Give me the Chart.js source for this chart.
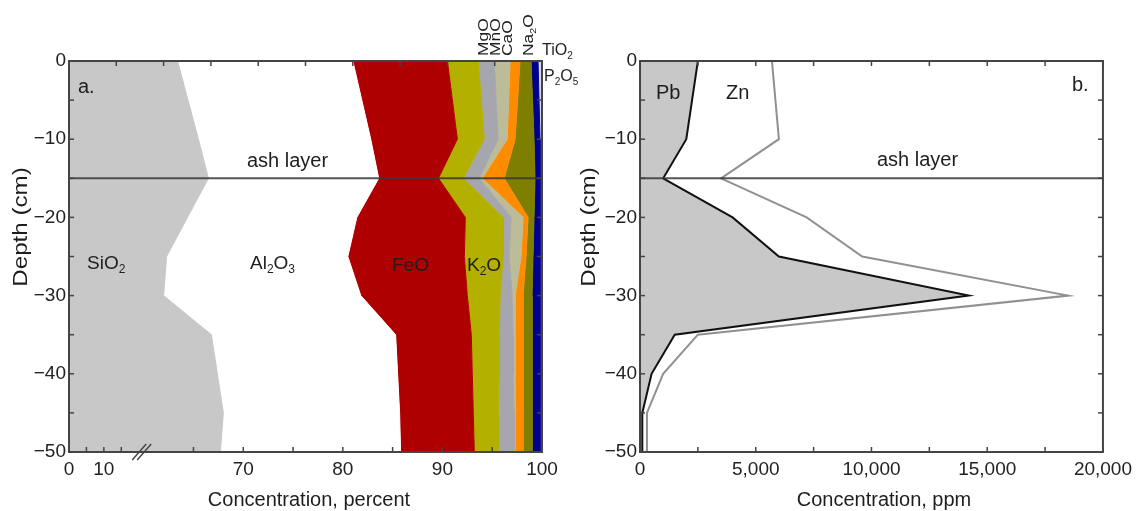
<!DOCTYPE html>
<html>
<head>
<meta charset="utf-8">
<script src="https://cdn.jsdelivr.net/npm/chart.js@4.4.1/dist/chart.umd.min.js"></script>
<style>
  html, body { margin: 0; padding: 0; background: #fff; }
  #wrap { position: relative; width: 1138px; height: 511px; overflow: hidden; background: #fff; }
  canvas { position: absolute; top: 0; }
  #chartA { left: 0; }
  #chartB { left: 560px; }
</style>
</head>
<body>
<div id="wrap">
  <canvas id="chartA" width="585" height="511"></canvas>
  <canvas id="chartB" width="578" height="511"></canvas>
</div>
<script>
// sample depths, cm
const depths = [0, -10, -15, -20, -25, -30, -35, -40, -45, -50];
const ashDepth = -15;

// panel a: oxides, percent, stacked left to right
const sio2  = [63.4, 65.5, 66.5, 64.4, 62.3, 62.0, 66.8, 67.4, 68.0, 67.7];
const al2o3 = [17.6, 17.3, 17.1, 17.0, 18.2, 19.8, 18.5, 18.1, 17.7, 18.1];
const feo   = [9.5, 8.7, 6.0, 10.9, 11.7, 10.7, 7.6, 7.5, 7.4, 7.4];
const k2o   = [3.1, 2.7, 2.5, 3.8, 3.9, 3.3, 2.8, 2.7, 2.5, 2.4];
const mgo   = [1.6, 1.4, 1.6, 0.8, 0.6, 1.2, 1.4, 1.4, 1.6, 1.6];
const mno   = [1.6, 0.9, 0.3, 1.2, 1.2, 0.3, 0.2, 0.2, 0.1, 0.1];
const cao   = [1.0, 0.8, 2.2, 0.5, 0.5, 0.8, 0.8, 0.8, 0.8, 0.8];
const na2o  = [1.1, 1.9, 3.1, 0.6, 0.7, 0.9, 0.9, 0.9, 0.9, 0.9];
const tio2  = [0.7, 0.6, 0.5, 0.6, 0.7, 0.8, 0.8, 0.8, 0.8, 0.8];
const p2o5  = [0.4, 0.2, 0.2, 0.2, 0.2, 0.2, 0.2, 0.2, 0.2, 0.2];

// panel b: metals, ppm
const pbPpm = [2500, 2000, 1000, 4000, 6000, 14200, 1500, 500, 100, 100];
const znPpm = [5700, 6000, 3500, 7200, 9600, 18500, 2500, 1000, 300, 300];

// ticks
const depthTicks = [0, -5, -10, -15, -20, -25, -30, -35, -40, -45, -50];
const percentTicks = [0, 5, 10, 15, 65, 70, 75, 80, 85, 90, 95, 100];
const percentLabels = [0, 10, 70, 80, 90, 100];
const ppmTicks = [0, 2500, 5000, 7500, 10000, 12500, 15000, 17500, 20000];
const ppmLabels = [0, 5000, 10000, 15000, 20000];

const FONT = "'Liberation Sans', Arial, Helvetica, sans-serif";
Chart.defaults.font.family = FONT;
Chart.defaults.font.size = 19;
Chart.defaults.color = '#222';

// broken percent axis: 0-20 squeezed, 60-100 full scale
const BREAK_FROM = 20, BREAK_TO = 60, LOW_SCALE = 0.35, GAP = 0.5;
const toAxis = v => v <= BREAK_FROM ? v * LOW_SCALE : BREAK_FROM * LOW_SCALE + GAP + (v - BREAK_TO);
const fromAxis = u => u <= BREAK_FROM * LOW_SCALE ? u / LOW_SCALE : u - BREAK_FROM * LOW_SCALE - GAP + BREAK_TO;
const AXIS_MAX_A = toAxis(100);

const fmtDepth = v => v === 0 ? '0' : '\u2212' + Math.abs(v);
const fmtPpm = v => String(v).replace(/\B(?=(\d{3})+(?!\d))/g, ',');

function chemRun(ctx, text, size, draw) {
  const parts = text.split(/(_\d)/).filter(Boolean);
  let x = 0;
  parts.forEach(p => {
    const sub = p[0] === '_';
    const t = sub ? p.slice(1) : p;
    ctx.font = (sub ? Math.round(size * 0.62) : size) + 'px ' + FONT;
    if (draw) ctx.fillText(t, x, sub ? size * 0.22 : 0);
    x += ctx.measureText(t).width;
  });
  return x;
}

const labelPlugin = {
  id: 'labels',
  afterDraw(chart, args, opts) {
    const ctx = chart.ctx;
    (opts.items || []).forEach(it => {
      ctx.save();
      ctx.fillStyle = '#1e1e1e';
      ctx.textBaseline = 'alphabetic';
      ctx.textAlign = 'left';
      ctx.translate(it.x, it.y);
      if (it.rotate) ctx.rotate(-Math.PI / 2);
      ctx.scale(it.stretch || 1, 1);
      const w = chemRun(ctx, it.text, it.size || 19, false);
      if (it.align === 'center') ctx.translate(-w / 2, 0);
      chemRun(ctx, it.text, it.size || 19, true);
      ctx.restore();
    });
  }
};

const framePlugin = {
  id: 'frame',
  afterDatasetsDraw(chart, args, opts) {
    const {ctx, chartArea: a, scales} = chart;
    const seg = (x1, y1, x2, y2) => { ctx.beginPath(); ctx.moveTo(x1, y1); ctx.lineTo(x2, y2); ctx.stroke(); };
    ctx.save();
    ctx.strokeStyle = '#444';
    ctx.lineWidth = 1.5;
    const L = 5;
    scales.y.ticks.forEach(t => {
      const py = scales.y.getPixelForValue(t.value);
      seg(a.left, py, a.left + L, py);
      seg(a.right, py, a.right - L, py);
    });
    scales.x.ticks.forEach(t => {
      const px = scales.x.getPixelForValue(t.value);
      seg(px, a.bottom, px, a.bottom - L);
    });
    const top = scales[opts.topScale || 'x'];
    top.ticks.forEach(t => {
      const px = top.getPixelForValue(t.value);
      seg(px, a.top, px, a.top + L);
    });
    if (opts.breakAt !== undefined) {
      const bx = scales.x.getPixelForValue(opts.breakAt);
      ctx.lineWidth = 1.4;
      seg(bx - 9, a.bottom + 8, bx + 5, a.bottom - 8);
      seg(bx - 4, a.bottom + 8, bx + 10, a.bottom - 8);
    }
    ctx.lineWidth = 2;
    ctx.strokeRect(a.left, a.top, a.right - a.left, a.bottom - a.top);
    ctx.restore();
  }
};

function depthScale(width) {
  return {
    type: 'linear', position: 'left', min: -50, max: 0,
    afterBuildTicks: s => { s.ticks = depthTicks.map(v => ({value: v})); },
    afterFit: s => { s.width = width; },
    grid: {display: false, drawTicks: false},
    border: {display: false},
    ticks: {padding: 3, autoSkip: false, callback: v => v % 10 === 0 ? fmtDepth(v) : ''}
  };
}

function ashDataset(xMax) {
  return {
    data: [{x: 0, y: ashDepth}, {x: xMax, y: ashDepth}],
    xAxisID: 'x', yAxisID: 'y',
    borderColor: 'rgba(55,55,55,0.85)', borderWidth: 2,
    pointRadius: 0, fill: false, order: -1
  };
}

// ---- panel a ----
const oxides = [
  {name: 'SiO2', values: sio2, color: '#c8c8c8'},
  {name: 'Al2O3', values: al2o3, color: '#ffffff'},
  {name: 'FeO', values: feo, color: '#ae0000'},
  {name: 'K2O', values: k2o, color: '#b4b000'},
  {name: 'MgO', values: mgo, color: '#a6a6ae'},
  {name: 'MnO', values: mno, color: '#bcbc98'},
  {name: 'CaO', values: cao, color: '#ff8c00'},
  {name: 'Na2O', values: na2o, color: '#7e7e00'},
  {name: 'TiO2', values: tio2, color: '#00008e'},
  {name: 'P2O5', values: p2o5, color: '#d6d8f4'}
];

let running = depths.map(() => 0);
const oxideSets = oxides.map((ox, k) => {
  running = running.map((r, i) => r + ox.values[i]);
  return {
    label: ox.name,
    data: running.map((c, i) => ({x: toAxis(c), y: depths[i]})),
    xAxisID: 'x', yAxisID: 'y',
    borderColor: ox.color, backgroundColor: ox.color, borderWidth: 1,
    pointRadius: 0, fill: k === 0 ? 'origin' : '-1'
  };
});

new Chart(document.getElementById('chartA'), {
  type: 'line',
  data: {datasets: [...oxideSets, ashDataset(AXIS_MAX_A)]},
  options: {
    indexAxis: 'y',
    responsive: false, animation: false, events: [],
    layout: {padding: {left: 0, top: 61, right: 43, bottom: 0}},
    scales: {
      x: {
        type: 'linear', position: 'bottom', min: 0, max: AXIS_MAX_A,
        afterBuildTicks: s => { s.ticks = percentTicks.map(v => ({value: toAxis(v)})); },
        afterFit: s => { s.height = 59; },
        grid: {display: false, drawTicks: false},
        border: {display: false},
        ticks: {
          padding: 6, autoSkip: false, maxRotation: 0, minRotation: 0,
          callback: u => { const v = Math.round(fromAxis(u)); return percentLabels.includes(v) ? String(v) : ''; }
        }
      },
      xTop: {type: 'linear', position: 'top', display: false, min: 0, max: 100, ticks: {stepSize: 10}},
      y: depthScale(69)
    },
    plugins: {
      legend: {display: false}, tooltip: {enabled: false},
      frame: {topScale: 'xTop', breakAt: toAxis(BREAK_FROM) + GAP / 2},
      labels: {items: [
        {text: 'a.', x: 78, y: 93, size: 20},
        {text: 'ash layer', x: 247, y: 167, size: 20},
        {text: 'SiO_2', x: 87, y: 269},
        {text: 'Al_2O_3', x: 250, y: 269},
        {text: 'FeO', x: 392, y: 271},
        {text: 'K_2O', x: 467, y: 271},
        {text: 'TiO_2', x: 542, y: 55, size: 16},
        {text: 'P_2O_5', x: 544, y: 81, size: 16},
        {text: 'MgO', x: 488, y: 56, size: 14.5, rotate: true, stretch: 1.2},
        {text: 'MnO', x: 500, y: 56, size: 14.5, rotate: true, stretch: 1.2},
        {text: 'CaO', x: 512, y: 56, size: 14.5, rotate: true, stretch: 1.2},
        {text: 'Na_2O', x: 533, y: 56, size: 14.5, rotate: true, stretch: 1.2},
        {text: 'Concentration, percent', x: 309, y: 506, size: 20, align: 'center'},
        {text: 'Depth (cm)', x: 27, y: 227, size: 21, rotate: true, align: 'center', stretch: 1.15}
      ]}
    }
  },
  plugins: [framePlugin, labelPlugin]
});

// ---- panel b ----
new Chart(document.getElementById('chartB'), {
  type: 'line',
  data: {datasets: [
    {
      label: 'Zn', data: znPpm.map((v, i) => ({x: v, y: depths[i]})),
      xAxisID: 'x', yAxisID: 'y',
      borderColor: '#909090', borderWidth: 2, pointRadius: 0, fill: false, order: 2
    },
    {
      label: 'Pb', data: pbPpm.map((v, i) => ({x: v, y: depths[i]})),
      xAxisID: 'x', yAxisID: 'y',
      borderColor: '#111', backgroundColor: '#c8c8c8', borderWidth: 2,
      pointRadius: 0, fill: 'origin', order: 1
    },
    ashDataset(20000)
  ]},
  options: {
    indexAxis: 'y',
    responsive: false, animation: false, events: [],
    layout: {padding: {left: 0, top: 61, right: 31, bottom: 0}},
    scales: {
      x: {
        type: 'linear', position: 'bottom', min: 0, max: 20000,
        afterBuildTicks: s => { s.ticks = ppmTicks.map(v => ({value: v})); },
        afterFit: s => { s.height = 59; },
        grid: {display: false, drawTicks: false},
        border: {display: false},
        ticks: {
          padding: 6, autoSkip: false, maxRotation: 0, minRotation: 0,
          callback: v => ppmLabels.includes(v) ? fmtPpm(v) : ''
        }
      },
      y: depthScale(80)
    },
    plugins: {
      legend: {display: false}, tooltip: {enabled: false},
      frame: {topScale: 'x'},
      labels: {items: [
        {text: 'Pb', x: 96, y: 99, size: 20},
        {text: 'Zn', x: 166, y: 99, size: 20},
        {text: 'b.', x: 512, y: 91, size: 20},
        {text: 'ash layer', x: 317, y: 166, size: 20},
        {text: 'Concentration, ppm', x: 324, y: 506, size: 20, align: 'center'},
        {text: 'Depth (cm)', x: 35, y: 227, size: 21, rotate: true, align: 'center', stretch: 1.15}
      ]}
    }
  },
  plugins: [framePlugin, labelPlugin]
});
</script>
</body>
</html>
